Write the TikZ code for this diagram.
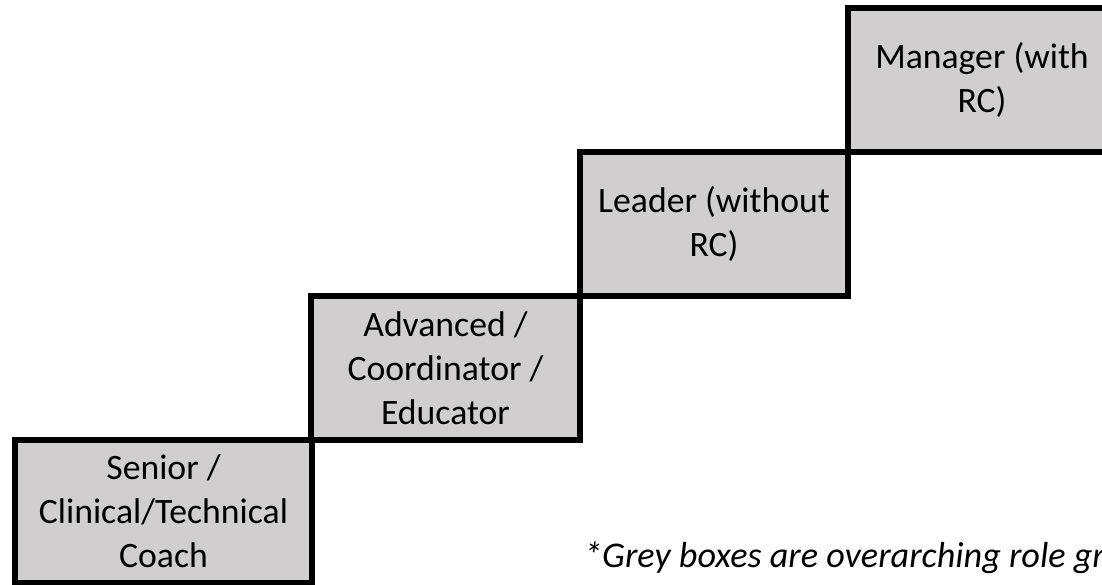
\documentclass[tikz,border=0pt]{standalone}
\usepackage{fontspec}
\setmainfont{Carlito}
\definecolor{boxgrey}{HTML}{D0CECE}
\begin{document}
\begin{tikzpicture}[x=1pt,y=-1pt,
  stepbox/.style={draw=black, line width=6.5pt, fill=boxgrey, minimum width=#1,
    minimum height=144pt, inner sep=0pt, align=center,
    font=\fontsize{35.7}{44}\selectfont},
  notetext/.style={anchor=base west, inner sep=0pt, font=\itshape\fontsize{36.2}{44}\selectfont}]
\useasboundingbox (0,0) rectangle (1102,584);
\clip (0,0) rectangle (1102,584);
\fill[white] (0,0) rectangle (1102,584);
\node[stepbox=297pt, minimum height=143pt] (senior) at (163.5,511.5) {Senior /\\Clinical/Technical\\Coach};
\node[stepbox=269pt] (advanced) at (445.5,368) {Advanced /\\Coordinator /\\Educator};
\node[stepbox=268pt] (leader) at (714,224) {Leader (without\\RC)};
\node[stepbox=268pt] (manager) at (982,80) {Manager (with\\RC)};
\node[notetext] (note) at (584,567) {*Grey boxes are overarching role gr};
\end{tikzpicture}
\end{document}
